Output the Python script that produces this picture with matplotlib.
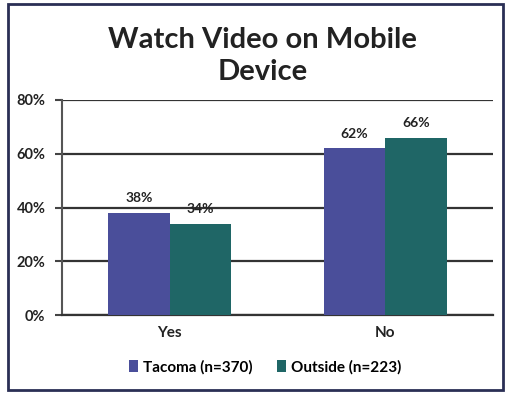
import matplotlib.pyplot as plt
import numpy as np
from matplotlib.patches import Rectangle

categories = ["Yes", "No"]
tacoma = [38, 62]
outside = [34, 66]
series_names = ["Tacoma (n=370)", "Outside (n=223)"]
yticks = [0, 20, 40, 60, 80]

plt.rcParams['font.family'] = ['Lato', 'DejaVu Sans']

fig = plt.figure(figsize=(5.05, 3.93), dpi=100)
ax = fig.add_axes([0.123, 0.198, 0.853, 0.548])

x = np.arange(len(categories))
w = 0.285
b1 = ax.bar(x - w / 2, tacoma, w, color="#4a4e9a", label=series_names[0], zorder=3)
b2 = ax.bar(x + w / 2, outside, w, color="#1f6666", label=series_names[1], zorder=3)

for bars, vals in ((b1, tacoma), (b2, outside)):
    for r, v in zip(bars, vals):
        ax.text(r.get_x() + r.get_width() / 2, v + 3.2, f"{v}%", ha="center",
                va="bottom", fontsize=10, fontweight="bold", color="#222222", zorder=4)

ax.set_xlim(-0.5, 1.5)
ax.set_ylim(0, 80)
ax.set_yticks(yticks)
ax.set_yticklabels([f"{t}%" for t in yticks], fontsize=10.5, fontweight="bold", color="#222222")
ax.set_xticks(x)
ax.set_xticklabels(categories, fontsize=11, fontweight="bold", color="#222222")
ax.tick_params(axis="x", length=0, pad=8)
ax.tick_params(axis="y", length=5, width=1.5, color="#444444", pad=7)
ax.grid(axis="y", color="#333333", linewidth=1.6, zorder=0)
for s in ("top", "right"):
    ax.spines[s].set_visible(False)
ax.spines["left"].set_color("#555555")
ax.spines["left"].set_linewidth(1.5)
ax.spines["bottom"].set_color("#333333")
ax.spines["bottom"].set_linewidth(1.6)

fig.text(0.52, 0.857, "Watch Video on Mobile\nDevice", ha="center", va="center",
         fontsize=21, fontweight="bold", color="#222222", linespacing=1.3)

fig.legend(handles=[b1, b2], loc="center", bbox_to_anchor=(0.525, 0.066), ncol=2,
           frameon=False, handlelength=0.6, handleheight=0.8,
           handletextpad=0.3, columnspacing=1.6, prop={"weight": "bold", "size": 11})

fig.patches.append(Rectangle((0.016, 0.008), 0.98, 0.982, transform=fig.transFigure,
                             fill=False, edgecolor="#2a2f55", linewidth=2))

fig.savefig("out.png", dpi=100)
